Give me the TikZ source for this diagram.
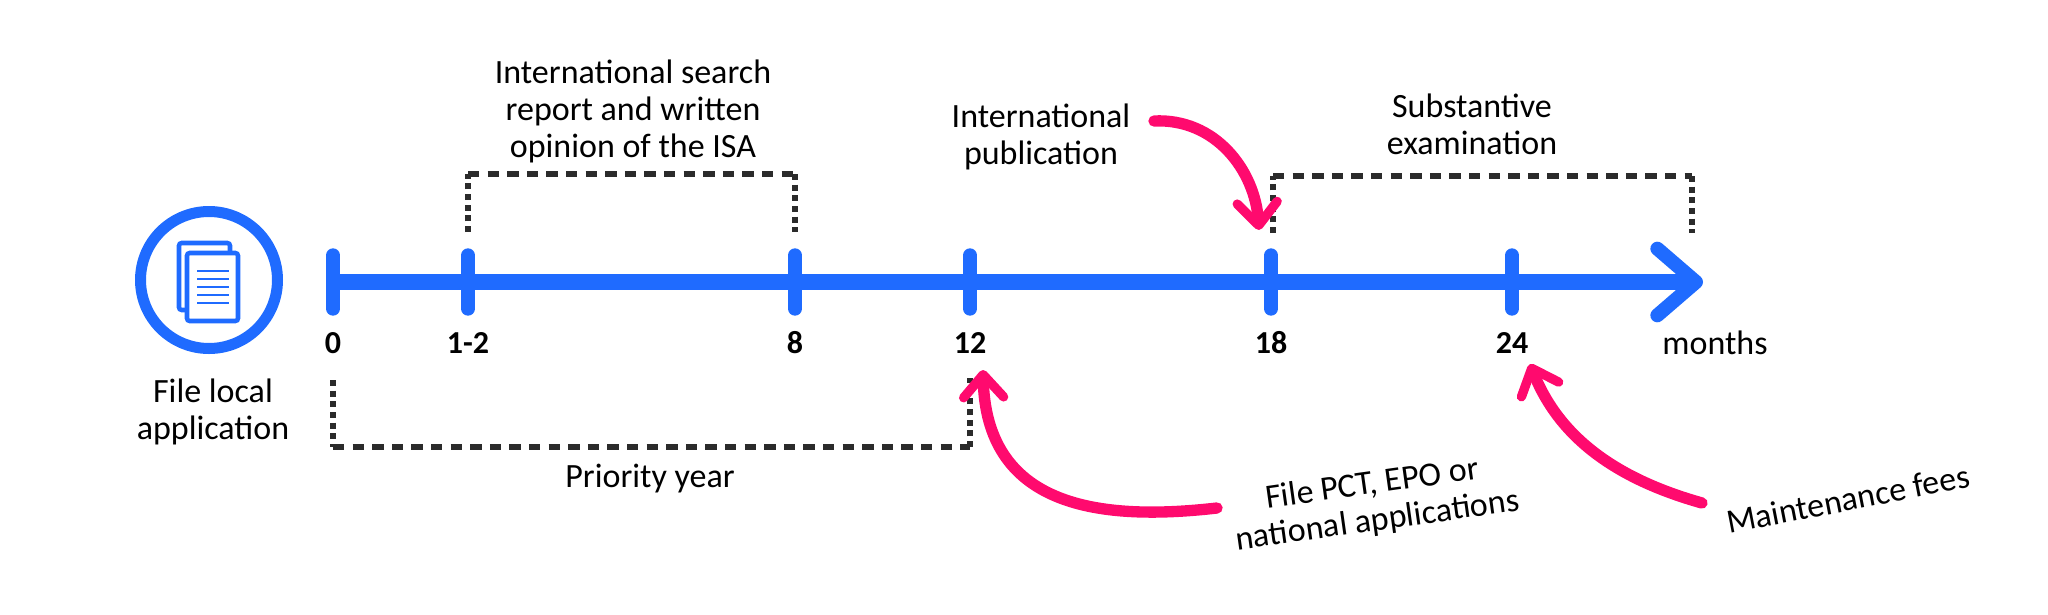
\documentclass[tikz,border=0pt]{standalone}
\usepackage{tikz}
\usepackage{xcolor}
\usepackage{fontspec}
\setmainfont{Carlito}
\usetikzlibrary{positioning}
\usetikzlibrary{arrows.meta}
\definecolor{axisblue}{HTML}{1F6BFF}
\definecolor{notepink}{HTML}{FF0A6E}
\definecolor{spanblack}{HTML}{2B2B2B}
\begin{document}
\begin{tikzpicture}[
        x=0.75pt, y=-0.75pt,
        every node/.style = {inner sep=0pt, align=center, font=\fontsize{25.5}{27.75}\selectfont, node distance={45.75pt}},
        axisline/.style = {draw=axisblue, line width=11.5pt, -{Straight Barb[round,length=29pt,width=50pt,line width=10.5pt]}},
        tickmark/.style = {draw=axisblue, line width=10.5pt, line cap=round},
        ticklabel/.style = {font=\fontsize{24}{27.75}\bfseries\selectfont},
        spanline/.style = {draw=spanblack, line width=4.5pt, dash pattern=on 8.5pt off 6.2pt},
        spanend/.style = {draw=spanblack, line width=4.5pt, dash pattern=on 4.5pt off 3.5pt},
        noteline/.style = {draw=notepink, line width=8.5pt, line cap=round, -{Straight Barb[round,length=17pt,width=30pt,line width=7pt]}}
        ]
        \useasboundingbox (0,0) rectangle (2048,614);
        % file icon
        \node (file) [circle, draw=axisblue, line width=8.25pt, minimum size=102.75pt] at (209,280) {};
        \draw[draw=axisblue, fill=white, line width=3.4pt, rounded corners=2pt] (179,243) rectangle (230,310);
        \draw[draw=axisblue, fill=white, line width=3.4pt, rounded corners=2pt] (187,253) rectangle (238,321);
        \draw[draw=axisblue, line width=1.5pt] (197,271) -- (229,271);
        \draw[draw=axisblue, line width=1.5pt] (197,279) -- (229,279);
        \draw[draw=axisblue, line width=1.5pt] (197,287) -- (229,287);
        \draw[draw=axisblue, line width=1.5pt] (197,295) -- (229,295);
        \draw[draw=axisblue, line width=1.5pt] (197,303) -- (229,303);
        \node (filetext) at (213,412) {File local\\application};
        % time axis
        \coordinate (t0) at (333,282);
        \coordinate (t1) at (468,282);
        \coordinate (t8) at (795,282);
        \coordinate (t12) at (970,282);
        \coordinate (t18) at (1271,282);
        \coordinate (t24) at (1512,282);
        \coordinate (tend) at (1703,282);
        \draw[axisline] (t0) -- (tend);
        \draw[tickmark] ([yshift=20pt]t0) -- ([yshift=-20pt]t0);
        \draw[tickmark] ([yshift=20pt]t1) -- ([yshift=-20pt]t1);
        \draw[tickmark] ([yshift=20pt]t8) -- ([yshift=-20pt]t8);
        \draw[tickmark] ([yshift=20pt]t12) -- ([yshift=-20pt]t12);
        \draw[tickmark] ([yshift=20pt]t18) -- ([yshift=-20pt]t18);
        \draw[tickmark] ([yshift=20pt]t24) -- ([yshift=-20pt]t24);
        \node (l0) [ticklabel, below of=t0] {0};
        \node (l1) [ticklabel, below of=t1] {1-2};
        \node (l8) [ticklabel, below of=t8] {8};
        \node (l12) [ticklabel, below of=t12] {12};
        \node (l18) [ticklabel, below of=t18] {18};
        \node (l24) [ticklabel, below of=t24] {24};
        \node (months) [below of=tend, xshift=9pt] {months};
        % spans
        \coordinate (s1a) at (468,232);
        \coordinate (s1b) at (468,174);
        \coordinate (s1c) at (795,174);
        \coordinate (s1d) at (795,232);
        \draw[spanend] (s1a) -- (s1b);
        \draw[spanline] (s1b) -- (s1c);
        \draw[spanend] (s1c) -- (s1d);
        \node (search) at (633,111) {International search\\report and written\\opinion of the ISA};
        \coordinate (s2a) at (333,380);
        \coordinate (s2b) at (333,447);
        \coordinate (s2c) at (970,447);
        \coordinate (s2d) at (970,378);
        \draw[spanend] (s2a) -- (s2b);
        \draw[spanline] (s2b) -- (s2c);
        \draw[spanend] (s2c) -- (s2d);
        \node (priority) at (650,479) {Priority year};
        \coordinate (s3a) at (1273,233);
        \coordinate (s3b) at (1273,176);
        \coordinate (s3c) at (1692,176);
        \coordinate (s3d) at (1692,233);
        \draw[spanend] (s3a) -- (s3b);
        \draw[spanline] (s3b) -- (s3c);
        \draw[spanend] (s3c) -- (s3d);
        \node (exam) at (1472,124) {Substantive\\examination};
        % notes
        \node (publication) at (1041,137) {International\\publication};
        \coordinate (n1) at (1154,121);
        \coordinate (n1tip) at (1259,230);
        \draw[noteline] (n1) .. controls (1215,118) and (1255,170) .. (n1tip);
        \node (pct) [rotate=8] at (1375,503) {File PCT, EPO or\\national applications};
        \coordinate (n2) at (1217,508);
        \coordinate (n2tip) at (983,370);
        \draw[noteline] (n2) .. controls (1095,522) and (986,505) .. (n2tip);
        \node (fees) [rotate=11] at (1848,499) {Maintenance fees};
        \coordinate (n3) at (1702,503);
        \coordinate (n3tip) at (1530,364);
        \draw[noteline] (n3) .. controls (1620,480) and (1560,440) .. (n3tip);
        \end{tikzpicture}
\end{document}
